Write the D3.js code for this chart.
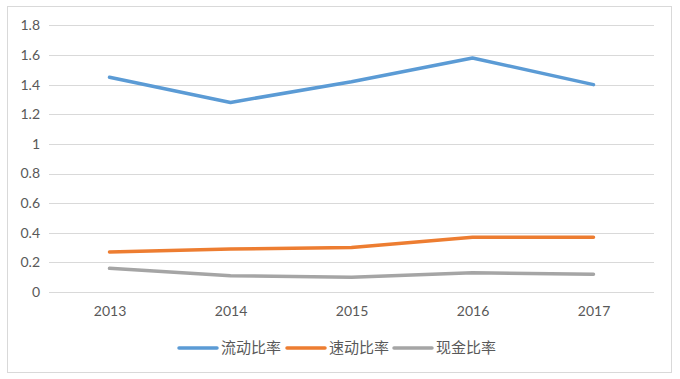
<!DOCTYPE html>
<html><head><meta charset="utf-8">
<script src="https://cdn.jsdelivr.net/npm/d3@7"></script>
<style>body{margin:0;background:#fff}svg{display:block}</style>
</head><body>
<svg id="c" width="680" height="379"></svg>
<script>
const years = ["2013","2014","2015","2016","2017"];
const currentRatio = [1.45, 1.28, 1.42, 1.58, 1.40];
const quickRatio = [0.27, 0.29, 0.30, 0.37, 0.37];
const cashRatio = [0.16, 0.11, 0.10, 0.13, 0.12];
const seriesNames = ["流动比率","速动比率","现金比率"];
const yTicks = [0,0.2,0.4,0.6,0.8,1,1.2,1.4,1.6,1.8];

const series = [
  {name: seriesNames[0], values: currentRatio, color: "#5b9bd5"},
  {name: seriesNames[1], values: quickRatio, color: "#ed7d31"},
  {name: seriesNames[2], values: cashRatio, color: "#a5a5a5"}
];

const svg = d3.select("#c");
const font = "Lato, 'Noto Sans CJK SC', sans-serif";
const textColor = "#595959";

svg.append("rect").attr("x",7.5).attr("y",6.5).attr("width",664).attr("height",366)
  .attr("fill","#fff").attr("stroke","#d9d9d9").attr("stroke-width",1);

const x = d3.scalePoint().domain(years).range([49,654]).padding(0.5);
const y = d3.scaleLinear().domain([0,1.8]).range([292,25.4]);

// gridlines
svg.append("g").selectAll("line").data(yTicks).join("line")
  .attr("x1",49).attr("x2",654)
  .attr("y1",d=>Math.round(y(d))+0.5).attr("y2",d=>Math.round(y(d))+0.5)
  .attr("stroke","#d9d9d9").attr("stroke-width",1);

// y axis labels
const yAxis = d3.axisLeft(y).tickValues(yTicks).tickSize(0).tickPadding(0).tickFormat(d=>String(d));
const gy = svg.append("g").attr("transform","translate(40,0)").call(yAxis);
gy.select(".domain").remove();
gy.selectAll("text").attr("fill",textColor).style("font-family",font).style("font-size","14px");

// x axis labels
const xAxis = d3.axisBottom(x).tickSize(0).tickPadding(0);
const gx = svg.append("g").attr("transform","translate(0,306)").call(xAxis);
gx.select(".domain").remove();
gx.selectAll("text").attr("fill",textColor).style("font-family",font).style("font-size","14px");

const line = d3.line().x((d,i)=>x(years[i])).y(d=>y(d));
svg.append("g").selectAll("path").data(series).join("path")
  .attr("d",d=>line(d.values))
  .attr("fill","none").attr("stroke",d=>d.color).attr("stroke-width",3.5)
  .attr("stroke-linecap","round").attr("stroke-linejoin","round");

// legend
const legX = [179, 287, 394];
const lg = svg.append("g").selectAll("g").data(series).join("g")
  .attr("transform",(d,i)=>`translate(${legX[i]},348)`);
lg.append("line").attr("x1",0).attr("x2",38).attr("y1",0).attr("y2",0)
  .attr("stroke",d=>d.color).attr("stroke-width",3.5).attr("stroke-linecap","round");
lg.append("text").attr("x",42).attr("y",0).attr("dy","0.35em")
  .attr("fill",textColor).style("font-family","'Noto Sans CJK SC', sans-serif").style("font-size","15px")
  .text(d=>d.name);
</script>
</body></html>
